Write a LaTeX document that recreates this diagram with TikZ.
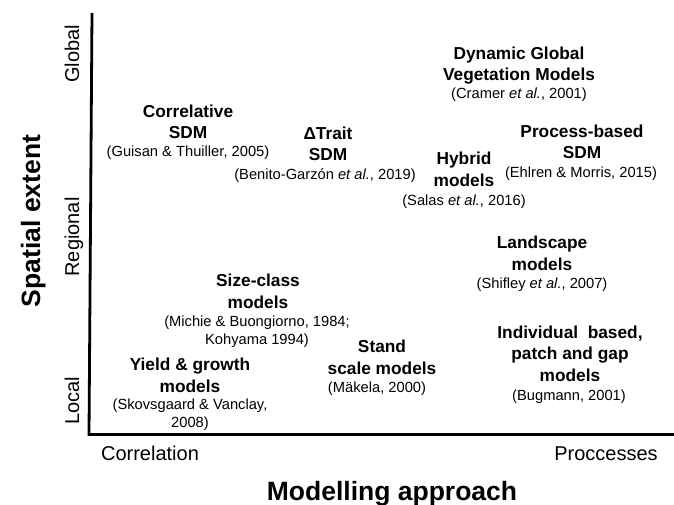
\documentclass[tikz,border=0pt]{standalone}
\usepackage{fontspec}
\setmainfont{Liberation Sans}
\begin{document}
\begin{tikzpicture}[x=1pt, y=-1pt,
    model/.style={font=\bfseries\fontsize{17.3}{21.5}\selectfont, align=center, inner sep=0pt, anchor=base},
    cite/.style={font=\fontsize{14.7}{17.5}\selectfont, align=center, inner sep=0pt, anchor=base},
    tick/.style={font=\fontsize{20}{24}\selectfont, inner sep=0pt, anchor=base},
    axistitle/.style={font=\bfseries\fontsize{26.5}{30}\selectfont, inner sep=0pt, anchor=base}]
    \useasboundingbox (0,0) rectangle (674,505);

    % Axes
    \coordinate (ytop) at (92,13);
    \coordinate (origin) at (89,434.5);
    \coordinate (xend) at (674,434.5);
    \draw[line width=2.8pt] (ytop) -- (origin) -- (xend);

    % Axis labels
    \node[tick, rotate=90] (global) at (79,54) {Global};
    \node[tick, rotate=90] (regional) at (79,237) {Regional};
    \node[tick, rotate=90] (local) at (79,401) {Local};
    \node[tick] (correlation) at (150,460) {Correlation};
    \node[tick] (processes) at (606,460) {Proccesses};
    \node[axistitle] (xtitle) at (392,500) {Modelling approach};
    \node[axistitle, rotate=90] (ytitle) at (40,221) {Spatial extent};

    % Model families (base = last line)
    \node[model] (dgvm) at (519,81) {Dynamic Global\\Vegetation Models};
    \node[cite] (dgvmref) at (519,99) {(Cramer \textit{et al.}, 2001)};

    \node[model] (corrsdm) at (188,139) {Correlative\\SDM};
    \node[cite] (corrref) at (188,157) {(Guisan \& Thuiller, 2005)};

    \node[model] (traitsdm) at (328,161) {ΔTrait\\SDM};
    \node[cite] (traitref) at (325,180) {(Benito-Garzón \textit{et al.}, 2019)};

    \node[model] (procsdm) at (582,159) {Process-based\\SDM};
    \node[cite] (procref) at (581,178) {(Ehlren \& Morris, 2015)};

    \node[model] (hybrid) at (464,186) {Hybrid\\models};
    \node[cite] (hybridref) at (464,205) {(Salas \textit{et al.}, 2016)};

    \node[model] (landscape) at (542,270) {Landscape\\models};
    \node[cite] (landref) at (542,288) {(Shifley \textit{et al.}, 2007)};

    \node[model] (sizeclass) at (258,308) {Size-class\\models};
    \node[cite] (sizeref) at (257,344) {(Michie \& Buongiorno, 1984;\\Kohyama 1994)};

    \node[model] (yield) at (190,392) {Yield \& growth\\models};
    \node[cite] (yieldref) at (190,427) {(Skovsgaard \& Vanclay,\\2008)};

    \node[model] (stand) at (382,374) {Stand\\scale models};
    \node[cite] (standref) at (377,392) {(Mäkela, 2000)};

    \node[model] (indiv) at (570,381) {Individual~ based,\\patch and gap\\models};
    \node[cite] (indivref) at (569,400) {(Bugmann, 2001)};
\end{tikzpicture}
\end{document}
